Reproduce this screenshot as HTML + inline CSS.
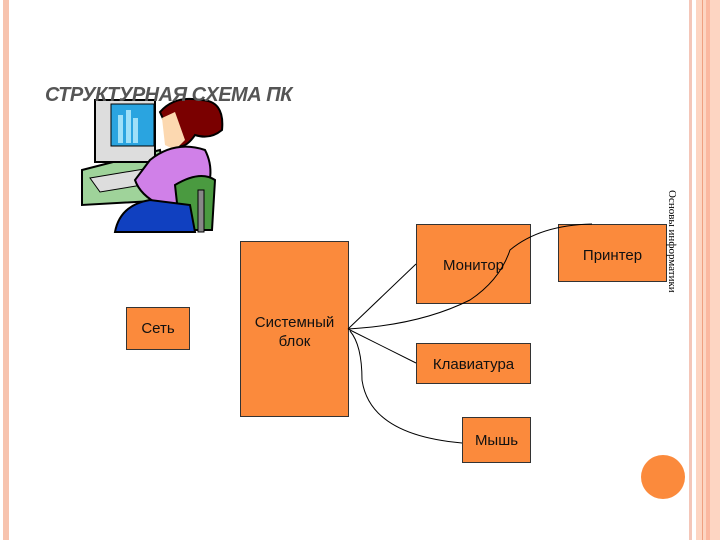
<!DOCTYPE html>
<html><head><meta charset="utf-8"><style>
body{margin:0;width:720px;height:540px;position:relative;background:#fff;overflow:hidden;font-family:"Liberation Sans",sans-serif}
.b{position:absolute;background:#fb8a3c;border:1px solid #333;box-sizing:border-box;color:#111;font-size:15px;text-align:center}
</style></head><body>
<div style="position:absolute;left:3px;top:0;width:6px;height:540px;background:#f7c3ae"></div>
<div style="position:absolute;left:689px;top:0;width:3px;height:540px;background:#f4c6b8"></div>
<div style="position:absolute;left:696px;top:0;width:24px;height:540px;background:#fdd5c2"></div>
<div style="position:absolute;left:702px;top:0;width:1px;height:540px;background:#f0a080"></div>
<div style="position:absolute;left:706px;top:0;width:4px;height:540px;background:#fbb8a0"></div>
<svg style="position:absolute;left:0;top:0" width="720" height="540">
<polygon points="82,170 160,150 170,200 82,205" fill="#9fd39a" stroke="#000" stroke-width="2"/>
<rect x="95" y="100" width="60" height="62" fill="#ddd" stroke="#000" stroke-width="2"/>
<rect x="111" y="104" width="43" height="42" fill="#2aa4e0" stroke="#000"/>
<rect x="118" y="115" width="5" height="28" fill="#9fe0f8"/><rect x="126" y="110" width="5" height="33" fill="#9fe0f8"/><rect x="133" y="118" width="5" height="25" fill="#9fe0f8"/>
<polygon points="90,178 150,168 160,182 100,192" fill="#ddd" stroke="#000"/>
<path d="M160 112 Q175 95 200 100 Q225 100 222 130 Q210 140 195 135 Q185 150 175 145 Z" fill="#7a0000" stroke="#000" stroke-width="2"/>
<path d="M162 118 L175 112 L185 140 L175 150 L165 145 Z" fill="#fcd8b0"/>
<path d="M150 160 Q175 140 205 150 Q218 175 200 205 L160 205 Q140 195 135 180 Z" fill="#d080e8" stroke="#000" stroke-width="2"/>
<path d="M175 185 Q200 170 215 180 L212 230 L180 230 Z" fill="#4a9a40" stroke="#000" stroke-width="2"/>
<path d="M115 232 Q120 205 150 200 L190 205 L195 232 Z" fill="#1040c0" stroke="#000" stroke-width="2"/>
<rect x="198" y="190" width="6" height="42" fill="#888" stroke="#000"/>
<circle cx="663" cy="477" r="22" fill="#fb8a3c"/>
</svg>
<div style="position:absolute;left:45px;top:84px;font-size:20px;font-weight:bold;font-style:italic;color:#555;letter-spacing:-0.5px">СТРУКТУРНАЯ СХЕМА ПК</div>
<div class="b" style="left:126px;top:307px;width:64px;height:43px;padding-top:12px">Сеть</div>
<div class="b" style="left:240px;top:241px;width:109px;height:176px;padding-top:71px;line-height:19px">Системный<br>блок</div>
<div class="b" style="left:416px;top:224px;width:115px;height:80px;padding-top:32px">Монитор</div>
<div class="b" style="left:558px;top:224px;width:109px;height:58px;padding-top:22px">Принтер</div>
<div class="b" style="left:416px;top:343px;width:115px;height:41px;padding-top:12px">Клавиатура</div>
<div class="b" style="left:462px;top:417px;width:69px;height:46px;padding-top:14px">Мышь</div>
<svg style="position:absolute;left:0;top:0" width="720" height="540">
<g fill="none" stroke="#000" stroke-width="1">
<line x1="348" y1="329" x2="416" y2="264"/>
<line x1="348" y1="329" x2="416" y2="363"/>
<path d="M348 329 Q420 325 470 300 Q500 280 510 250 Q540 225 592 224"/>
<path d="M350 331 Q362 345 362 380 Q370 435 462 443"/>
</g>
</svg>
<div style="position:absolute;left:666px;top:190px;width:12px;height:112px;">
<div style="position:absolute;left:12px;top:0;transform-origin:0 0;transform:rotate(90deg);white-space:nowrap;font-family:'Liberation Serif',serif;font-size:11px;line-height:12px">Основы информатики</div></div>
</body></html>
